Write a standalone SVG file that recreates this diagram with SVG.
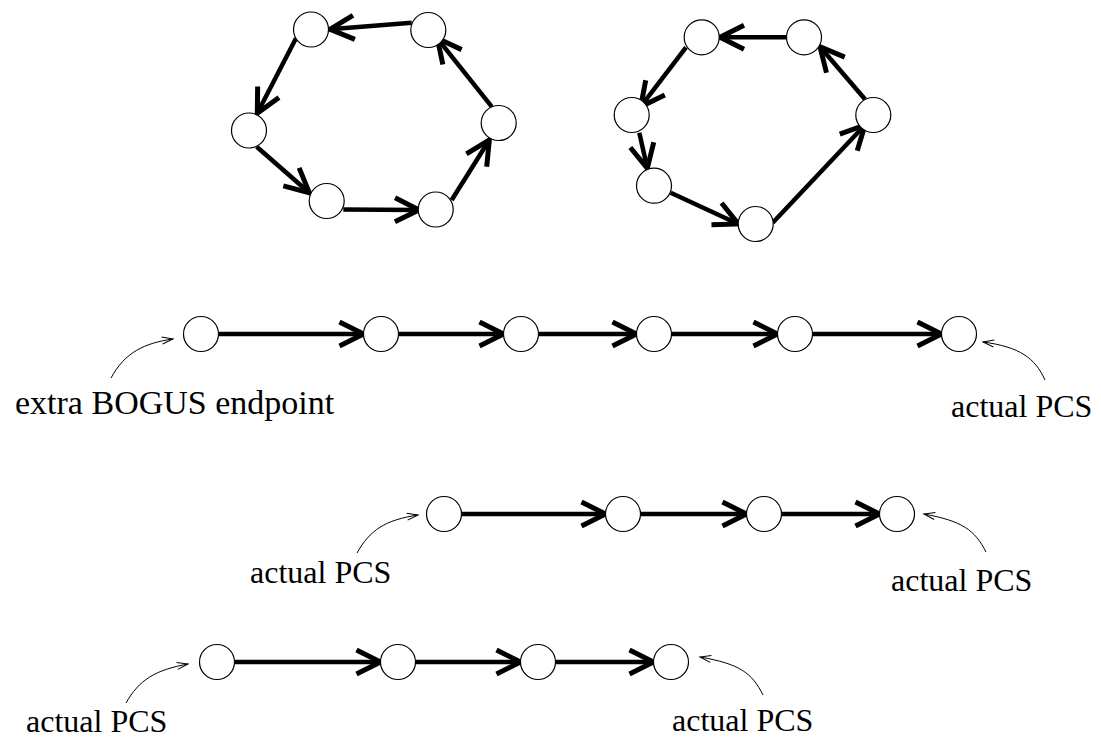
<svg xmlns="http://www.w3.org/2000/svg" width="1101" height="738" viewBox="0 0 1101 738">
  <style>
    .edge { stroke: #000; stroke-width: 4.5; fill: none; marker-end: url(#head); }
    .pointer { stroke: #000; stroke-width: 1; fill: none; marker-end: url(#tip); }
    .node circle { fill: #fff; stroke: #000; stroke-width: 1.2; }
    .label { font-family: "Liberation Serif", "Times New Roman", serif; font-size: 32px; fill: #000; }
  </style>
  <defs>
    <marker id="head" markerUnits="userSpaceOnUse" viewBox="-30 -20 40 40" markerWidth="40" markerHeight="40" refX="0" refY="0" orient="auto">
      <path d="M-24,-12 L0,0 L-24,12" fill="none" stroke="#000" stroke-width="5"/>
    </marker>
    <marker id="tip" markerUnits="userSpaceOnUse" viewBox="-15 -8 18 16" markerWidth="18" markerHeight="16" refX="0" refY="0" orient="auto">
      <path d="M-11,-3.5 L0,0 L-11,3.5" fill="none" stroke="#000" stroke-width="1"/>
    </marker>
  </defs>
  <rect width="1101" height="738" fill="#fff"/>

  <g id="connectors">
    <!-- left cycle -->
    <line class="edge" x1="411.7" y1="22.7" x2="330" y2="29.3"/>
    <line class="edge" x1="296" y1="38.3" x2="257.3" y2="113.3"/>
    <line class="edge" x1="256.7" y1="146.7" x2="309.3" y2="192.7"/>
    <line class="edge" x1="343.3" y1="209.5" x2="419" y2="210"/>
    <line class="edge" x1="451.7" y1="200" x2="489.3" y2="140"/>
    <line class="edge" x1="491.7" y1="106.7" x2="437.3" y2="38.3"/>
    <!-- right cycle -->
    <line class="edge" x1="786.7" y1="37.3" x2="720" y2="37.3"/>
    <line class="edge" x1="686" y1="47.3" x2="640.7" y2="106.7"/>
    <line class="edge" x1="639.3" y1="132.7" x2="647.3" y2="168.3"/>
    <line class="edge" x1="670.7" y1="192.7" x2="738.3" y2="224"/>
    <line class="edge" x1="772.7" y1="222.7" x2="865" y2="125"/>
    <line class="edge" x1="865" y1="99.3" x2="820" y2="46.7"/>
    <!-- chain 1 -->
    <line class="edge" x1="218.5" y1="334" x2="363.5" y2="334"/>
    <line class="edge" x1="398.5" y1="334" x2="503.5" y2="334"/>
    <line class="edge" x1="538.5" y1="334" x2="636.5" y2="334"/>
    <line class="edge" x1="671.5" y1="334" x2="777.5" y2="334"/>
    <line class="edge" x1="812.5" y1="334" x2="941.5" y2="334"/>
    <!-- chain 2 -->
    <line class="edge" x1="461.5" y1="514" x2="605.5" y2="514"/>
    <line class="edge" x1="640.5" y1="514" x2="746.5" y2="514"/>
    <line class="edge" x1="781.5" y1="514" x2="879.5" y2="514"/>
    <!-- chain 3 -->
    <line class="edge" x1="234.5" y1="662" x2="380.5" y2="662"/>
    <line class="edge" x1="415.5" y1="662" x2="520.5" y2="662"/>
    <line class="edge" x1="555.5" y1="662" x2="653.5" y2="662"/>
    <!-- label pointers -->
    <path class="pointer" d="M111,378 C125,352 145,343 173,339"/>
    <path class="pointer" d="M1045,380 C1035,358 1020,347 983,342"/>
    <path class="pointer" d="M357,553 C370,530 385,520 418,515"/>
    <path class="pointer" d="M986,552 C975,530 962,521 924,514"/>
    <path class="pointer" d="M126,703 C139,680 155,670 188,664"/>
    <path class="pointer" d="M763,695 C752,673 740,664 700,657"/>
  </g>

  <!-- left cycle nodes -->
  <g id="a1" class="node"><circle cx="311" cy="29.5" r="17.5"/></g>
  <g id="a2" class="node"><circle cx="428.3" cy="30" r="17.5"/></g>
  <g id="a3" class="node"><circle cx="249" cy="130.5" r="17.5"/></g>
  <g id="a4" class="node"><circle cx="326.7" cy="201" r="17.5"/></g>
  <g id="a5" class="node"><circle cx="435.7" cy="209.5" r="17.5"/></g>
  <g id="a6" class="node"><circle cx="498.7" cy="123" r="17.5"/></g>

  <!-- right cycle nodes -->
  <g id="b1" class="node"><circle cx="701.7" cy="37.3" r="17.5"/></g>
  <g id="b2" class="node"><circle cx="804" cy="37.3" r="17.5"/></g>
  <g id="b3" class="node"><circle cx="631.7" cy="115" r="17.5"/></g>
  <g id="b4" class="node"><circle cx="654" cy="185.7" r="17.5"/></g>
  <g id="b5" class="node"><circle cx="755.7" cy="224" r="17.5"/></g>
  <g id="b6" class="node"><circle cx="873.3" cy="115" r="17.5"/></g>

  <!-- chain 1 nodes -->
  <g id="c1" class="node"><circle cx="201" cy="334" r="17.5"/></g>
  <g id="c2" class="node"><circle cx="381" cy="334" r="17.5"/></g>
  <g id="c3" class="node"><circle cx="521" cy="334" r="17.5"/></g>
  <g id="c4" class="node"><circle cx="654" cy="334" r="17.5"/></g>
  <g id="c5" class="node"><circle cx="795" cy="334" r="17.5"/></g>
  <g id="c6" class="node"><circle cx="959" cy="334" r="17.5"/></g>

  <!-- chain 2 nodes -->
  <g id="d1" class="node"><circle cx="444" cy="514" r="17.5"/></g>
  <g id="d2" class="node"><circle cx="623" cy="514" r="17.5"/></g>
  <g id="d3" class="node"><circle cx="764" cy="514" r="17.5"/></g>
  <g id="d4" class="node"><circle cx="897" cy="514" r="17.5"/></g>

  <!-- chain 3 nodes -->
  <g id="e1" class="node"><circle cx="217" cy="662" r="17.5"/></g>
  <g id="e2" class="node"><circle cx="398" cy="662" r="17.5"/></g>
  <g id="e3" class="node"><circle cx="538" cy="662" r="17.5"/></g>
  <g id="e4" class="node"><circle cx="671" cy="662" r="17.5"/></g>

  <!-- labels -->
  <g id="labels">
    <text class="label" x="15" y="414" style="font-size:34px">extra BOGUS endpoint</text>
    <text class="label" x="951" y="417">actual PCS</text>
    <text class="label" x="250" y="583">actual PCS</text>
    <text class="label" x="891" y="591">actual PCS</text>
    <text class="label" x="26" y="732">actual PCS</text>
    <text class="label" x="672" y="731">actual PCS</text>
  </g>
</svg>
